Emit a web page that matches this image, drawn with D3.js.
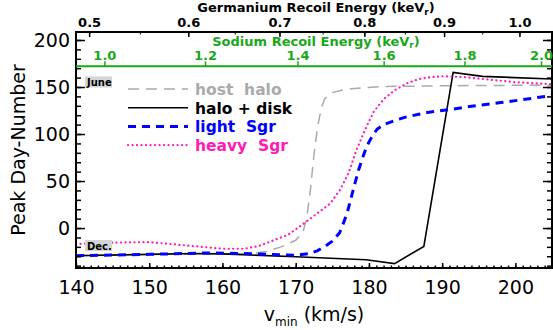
<!DOCTYPE html>
<html>
<head>
<meta charset="utf-8">
<script src="https://cdn.jsdelivr.net/npm/d3@7"></script>
<style>
  body { margin: 0; background: #fff; }
  text { font-family: "DejaVu Sans", sans-serif; }
</style>
</head>
<body>
<svg id="chart" width="553" height="330"></svg>
<script>
// peak day vs vmin
const hostHalo = [[140,-29],[150,-28],[160,-27.5],[164,-27],[166,-25],[168,-20],[170,-13],[171,-4],
  [171.5,10],[172,40],[172.5,78],[173,108],[173.5,128],[174,138],[175,144],[176.5,147],[178,148.5],
  [182,150.5],[190,151.3],[205,152]];
const haloDisk = [[140,-29.5],[150,-28],[156,-27],[160,-27.5],[170,-30.5],[179.6,-33.8],[183.5,-37.8],
  [187.5,-19.5],[191.5,165.5],[195.5,161.3],[205,158.5]];
const lightSgr = [[140,-29.5],[150,-28],[158,-26.5],[165,-27.5],[170,-29],[172,-27],[173,-24],[174,-19.5],
  [175,-14],[176,-5],[177,15],[177.5,30],[178,45],[178.6,62],[179.2,76],[179.7,87],[180.4,97],[181.1,105],
  [182,110],[183.4,114],[185,118],[186.8,121],[188,123],[191,126],[194,129.5],[198,133.5],[201,136.5],[205,141]];
const heavySgr = [[140,-17],[145,-15.5],[150,-15],[155,-18.5],[160,-22],[163,-22],[165,-19],[167,-13],
  [169,-7],[170.6,2],[172,10],[173,16],[174.7,26],[176.1,41],[177.2,58],[178.3,83],[179.5,105],[180.6,123],
  [182,137],[183.6,147],[185.2,154],[186.8,158.5],[188.5,160.5],[190.2,161.5],[193,160.5],[195.6,158.5],
  [200.2,155],[205,153]];

const xTicks = [140, 150, 160, 170, 180, 190, 200];
const yTicks = [0, 50, 100, 150, 200];
const geTicks = [0.5, 0.6, 0.7, 0.8, 0.9, 1.0];
const naTicks = [1.0, 1.2, 1.4, 1.6, 1.8, 2.0];
const naLineValue = 172;

const series = [
  { name: "host  halo", data: hostHalo, color: "#aaaaaa", width: 1.5, dash: "11,7", cap: "butt" },
  { name: "halo + disk", data: haloDisk, color: "#000000", width: 1.6, dash: null, cap: "butt" },
  { name: "light  Sgr", data: lightSgr, color: "#0000ff", width: 3, dash: "8,6", cap: "butt" },
  { name: "heavy  Sgr", data: heavySgr, color: "#ff1cb4", width: 2.2, dash: "0.1,4.4", cap: "round" }
];

const svg = d3.select("#chart");
const margin = { top: 32, right: 1, bottom: 62, left: 76 };
const width = 553, height = 330;
const x0 = margin.left, x1 = width - margin.right, y0 = height - margin.bottom, y1 = margin.top;

const x = d3.scaleLinear().domain([140, 205]).range([x0, x1]);
const y = d3.scaleLinear().domain([-42.5, 208.5]).range([y0, y1]);

// recoil energy ~ v^2
const geToV = (e) => Math.sqrt(e * 40250);
const naToV = (e) => Math.sqrt(e * 20720);

const green = "#19a819";

// curves
const line = d3.line().x((d) => x(d[0])).y((d) => y(d[1]));
const plot = svg.append("g");
plot.append("clipPath").attr("id", "clip").append("rect")
  .attr("x", x0).attr("y", y1).attr("width", x1 - x0).attr("height", y0 - y1);
series.forEach((s) => {
  plot.append("path")
    .attr("d", line(s.data))
    .attr("fill", "none")
    .attr("stroke", s.color)
    .attr("stroke-width", s.width)
    .attr("stroke-dasharray", s.dash)
    .attr("stroke-linecap", s.cap)
    .attr("clip-path", "url(#clip)");
});

// frame
svg.append("rect").attr("x", x0).attr("y", y1).attr("width", x1 - x0).attr("height", y0 - y1)
  .attr("fill", "none").attr("stroke", "#000").attr("stroke-width", 2);

// bottom axis
const gx = svg.append("g").attr("transform", `translate(0,${y0})`)
  .call(d3.axisBottom(x).tickValues(xTicks).tickSize(-5).tickPadding(13).tickFormat(d3.format("d")));
svg.append("g").attr("transform", `translate(0,${y0})`)
  .call(d3.axisBottom(x).tickValues(d3.range(141, 205)).tickSize(-2.5).tickFormat(""));

// left and right axes
const gy = svg.append("g").attr("transform", `translate(${x0},0)`)
  .call(d3.axisLeft(y).tickValues(yTicks).tickSize(-9).tickPadding(6));
svg.append("g").attr("transform", `translate(${x0},0)`)
  .call(d3.axisLeft(y).tickValues(d3.range(-40, 210, 10)).tickSize(-5).tickFormat(""));
svg.append("g").attr("transform", `translate(${x1},0)`)
  .call(d3.axisRight(y).tickValues(yTicks).tickSize(-9).tickFormat(""));
svg.append("g").attr("transform", `translate(${x1},0)`)
  .call(d3.axisRight(y).tickValues(d3.range(-40, 210, 10)).tickSize(-5).tickFormat(""));

// top germanium axis
const gGe = svg.append("g").attr("transform", `translate(0,${y1})`);
gGe.selectAll("line.major").data(geTicks).join("line").attr("class", "major")
  .attr("x1", (d) => x(geToV(d))).attr("x2", (d) => x(geToV(d)))
  .attr("y1", 0).attr("y2", 5).attr("stroke", "#000").attr("stroke-width", 1.5);
gGe.selectAll("line.minor").data(d3.range(0.5, 1.045, 0.05)).join("line").attr("class", "minor")
  .attr("x1", (d) => x(geToV(d))).attr("x2", (d) => x(geToV(d)))
  .attr("y1", 0).attr("y2", 2.5).attr("stroke", "#000").attr("stroke-width", 1);
gGe.selectAll("text").data(geTicks).join("text")
  .attr("x", (d) => x(geToV(d))).attr("y", -5)
  .attr("text-anchor", "middle").attr("font-size", 13).attr("font-weight", "bold")
  .text((d) => d.toFixed(1));

// sodium axis drawn as a line inside the plot
const yNa = y(naLineValue);
svg.append("line").attr("x1", x0).attr("x2", x1).attr("y1", yNa).attr("y2", yNa)
  .attr("stroke", green).attr("stroke-width", 2);
svg.selectAll("line.na").data(naTicks).join("line").attr("class", "na")
  .attr("x1", (d) => x(naToV(d))).attr("x2", (d) => x(naToV(d)))
  .attr("y1", yNa).attr("y2", yNa - 5).attr("stroke", green).attr("stroke-width", 1.5);
svg.selectAll("text.na").data(naTicks).join("text").attr("class", "na")
  .attr("x", (d) => x(naToV(d))).attr("y", yNa - 6.5)
  .attr("text-anchor", "middle").attr("font-size", 13).attr("font-weight", "bold").attr("fill", green)
  .text((d) => d.toFixed(1));

// axis styling
[gx, gy].forEach((g) => {
  g.select(".domain").remove();
  g.selectAll("text").attr("font-size", 19).attr("fill", "#000");
});
svg.selectAll(".domain").remove();
svg.selectAll(".tick line").attr("stroke", "#000").attr("stroke-width", 1.5);

// titles
const cx = (x0 + x1) / 2 + 2;
const geTitle = svg.append("text").attr("x", cx).attr("y", 12).attr("text-anchor", "middle")
  .attr("font-size", 13).attr("font-weight", "bold");
geTitle.append("tspan").text("Germanium Recoil Energy (keV");
geTitle.append("tspan").attr("font-size", 9).attr("dy", 3).text("r");
geTitle.append("tspan").attr("dy", -3).text(")");

const naTitle = svg.append("text").attr("x", cx).attr("y", 45.5).attr("text-anchor", "middle")
  .attr("font-size", 13).attr("font-weight", "bold").attr("fill", green);
naTitle.append("tspan").text("Sodium Recoil Energy (keV");
naTitle.append("tspan").attr("font-size", 9).attr("dy", 2).text("r");
naTitle.append("tspan").attr("dy", -2).text(")");

const xTitle = svg.append("text").attr("x", 314).attr("y", 321).attr("text-anchor", "middle")
  .attr("font-size", 19);
xTitle.append("tspan").text("v");
xTitle.append("tspan").attr("font-size", 12).attr("dy", 5).text("min");
xTitle.append("tspan").attr("dy", -5).text(" (km/s)");

svg.append("text").attr("transform", `translate(25,${(y0 + y1) / 2}) rotate(-90)`)
  .attr("text-anchor", "middle").attr("font-size", 19).text("Peak Day-Number");

// June / Dec. markers
[{ label: "June", yy: 82 }, { label: "Dec.", yy: 245.5 }].forEach((m) => {
  svg.append("rect").attr("x", 85).attr("y", m.yy - 5.5).attr("width", 27).attr("height", 11)
    .attr("fill", "#d4d4d4");
  svg.append("text").attr("x", 87).attr("y", m.yy + 4).attr("font-size", 10).attr("font-weight", "bold")
    .text(m.label);
});

// legend
const legend = svg.append("g");
series.forEach((s, i) => {
  const ly = 89 + i * 18.7;
  legend.append("line").attr("x1", 128).attr("x2", 188).attr("y1", ly).attr("y2", ly)
    .attr("stroke", s.color).attr("stroke-width", s.width).attr("stroke-dasharray", s.dash)
    .attr("stroke-linecap", s.cap);
  legend.append("text").attr("x", 195).attr("y", ly + 6).attr("font-size", 15.5).attr("font-weight", "bold")
    .attr("fill", s.color).style("white-space", "pre")
    .text(s.name);
});
</script>
</body>
</html>
